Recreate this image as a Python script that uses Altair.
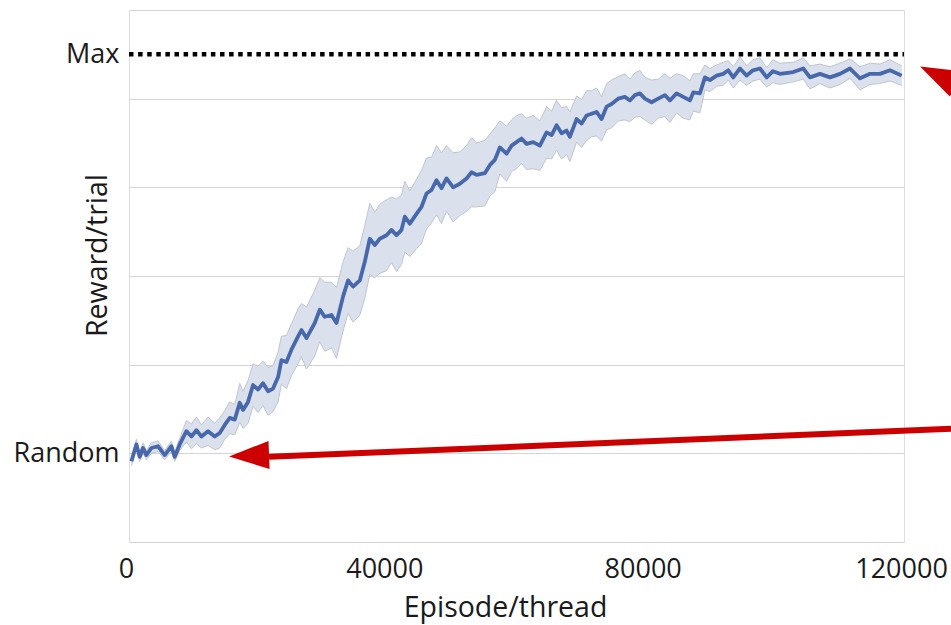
import altair as alt
import pandas as pd

# ---- data ----
episodes = [372, 1146, 1657, 2169, 2695, 3470, 4492, 5530, 6568, 7079, 7854,
            8891, 9666, 10440, 11215, 12237, 13275, 14050, 14824, 15599, 16373,
            17148, 17659, 18433, 19208, 19982, 20757, 21531, 22306, 23080, 23607, 24382, 25156, 26178, 26705,
            27479, 28765, 29540, 30314, 31352, 32127, 33149, 33924, 34698, 35736,
            36510, 37285, 38059, 38834, 39872, 40646, 41421, 42195, 42706, 43481,
            44518, 45293, 46067, 46842, 47617, 48391, 49166, 50188, 51225, 52263,
            53038, 53812, 55098, 55872, 56647,
            57421, 58459, 59234, 60008, 60783, 61557, 62580, 63617, 64655, 65430,
            66204, 66979, 67753, 68265, 69302, 70077, 70851, 71626, 72400, 73175,
            73949, 74724, 75746, 76784, 77558, 78333, 79107, 79882, 80920, 81942,
            82980, 83754, 84792, 85815, 86853, 87364, 88402,
            89176, 89951, 90989, 92011, 92786, 93560, 94598, 95636, 96612, 97696,
            98734, 99710, 100793, 102854, 104403, 105440, 106990, 108539, 110087, 111637,
            113186, 114735, 116284, 117833, 119646]

reward = [0.91, 1.10, 0.96, 1.06, 0.98, 1.06, 1.08, 0.98, 1.08, 0.96, 1.10,
          1.25, 1.19, 1.26, 1.19, 1.25, 1.19, 1.23, 1.32, 1.40, 1.38,
          1.57, 1.49, 1.58, 1.77, 1.72, 1.79, 1.70, 1.73, 1.86, 2.05, 2.03, 2.17, 2.32, 2.39,
          2.30, 2.47, 2.62, 2.54, 2.56, 2.47, 2.77, 2.95, 2.88, 2.95,
          3.16, 3.42, 3.35, 3.42, 3.46, 3.52, 3.46, 3.52, 3.67, 3.59,
          3.70, 3.78, 3.93, 3.97, 4.08, 3.99, 4.10, 4.00, 4.04, 4.10,
          4.17, 4.14, 4.16, 4.25, 4.31,
          4.45, 4.38, 4.47, 4.51, 4.55, 4.49, 4.51, 4.47, 4.62, 4.59,
          4.70, 4.61, 4.64, 4.57, 4.77, 4.72, 4.81, 4.83, 4.85, 4.77,
          4.91, 4.94, 5.00, 5.02, 4.98, 5.04, 5.06, 5.00, 4.96, 5.00,
          5.04, 4.98, 5.06, 5.02, 4.98, 5.07, 5.06,
          5.24, 5.21, 5.26, 5.28, 5.32, 5.24, 5.34, 5.26, 5.32, 5.34,
          5.24, 5.31, 5.28, 5.30, 5.34, 5.24, 5.28, 5.24, 5.28, 5.34,
          5.23, 5.28, 5.28, 5.32, 5.26]

band_half = [0.05, 0.06, 0.05, 0.06, 0.05, 0.06, 0.06, 0.05, 0.06, 0.05, 0.07,
             0.12, 0.14, 0.15, 0.13, 0.16, 0.15, 0.17, 0.16, 0.18, 0.17,
             0.22, 0.21, 0.24, 0.24, 0.26, 0.25, 0.27, 0.26, 0.28, 0.27, 0.30, 0.29, 0.31, 0.30,
             0.35, 0.37, 0.36, 0.39, 0.37, 0.40, 0.39, 0.37, 0.40, 0.39,
             0.41, 0.40, 0.37, 0.39, 0.40, 0.37, 0.41, 0.39, 0.40, 0.37,
             0.39, 0.41, 0.40, 0.37, 0.39, 0.40, 0.37, 0.39, 0.36, 0.37,
             0.39, 0.36, 0.37, 0.35, 0.36,
             0.30, 0.31, 0.29, 0.30, 0.28, 0.29, 0.30, 0.28, 0.29, 0.27,
             0.28, 0.29, 0.27, 0.28, 0.26, 0.27, 0.28, 0.26, 0.27, 0.25,
             0.26, 0.27, 0.25, 0.26, 0.24, 0.25, 0.26, 0.24, 0.25, 0.22,
             0.24, 0.25, 0.22, 0.24, 0.22, 0.21, 0.22,
             0.14, 0.13, 0.12, 0.13, 0.11, 0.12, 0.13, 0.11, 0.12, 0.12,
             0.11, 0.13, 0.12, 0.11, 0.12, 0.13, 0.11, 0.12, 0.12, 0.11,
             0.13, 0.12, 0.11, 0.12, 0.11]

x_ticks = [0, 40000, 80000, 120000]
y_grid = [0, 1, 2, 3, 4, 5, 6]
y_label_values = [1, 5.5]
y_label_text = ["Random", "Max"]
max_level = 5.5

# annotation arrows (data units)
arrow_line_x = [127280]
arrow_line_x2 = [21686]
arrow_line_y = [1.276]
arrow_line_y2 = [0.961]
head_x = [18588, 125270]
head_y = [0.973, 5.265]
head_angle = [357.7, 26]

df = pd.DataFrame({"episode": episodes, "reward": reward, "half": band_half})
df["lower"] = df["reward"] - df["half"]
df["upper"] = df["reward"] + df["half"]

FONT = "Open Sans"
GRID = "#d4d4d4"

label_expr = " : ".join(
    f"datum.value == {v} ? '{t}'" for v, t in zip(y_label_values, y_label_text)
) + " : ''"

x_enc = alt.X(
    "episode:Q",
    scale=alt.Scale(domain=[0, 120000], nice=False, zero=False),
    axis=alt.Axis(
        values=x_ticks, format="d", title="Episode/thread", grid=False,
        ticks=False, domain=False, labelFlush=False, labelPadding=14,
        labelOffset=-3, labelBound=False, labelOverlap=False,
        labelFontSize=27, labelFont=FONT, labelColor="#1a1a1a",
        titleFontSize=28.5, titleFont=FONT, titleColor="#1a1a1a",
        titleFontWeight="normal", titleX=376, titleY=74,
        titleAlign="center", titleBaseline="alphabetic",
    ),
)
y_scale = alt.Scale(domain=[0, 6], nice=False, zero=False)
y_axis = alt.Axis(
    values=sorted(set(y_grid + y_label_values)), labelExpr=label_expr,
    title="Reward/trial", grid=True, gridColor=GRID, gridWidth=1,
    gridOpacity={"condition": {"test": f"datum.value == {max_level}", "value": 0}, "value": 1},
    ticks=False, domain=False, labelPadding=10,
    labelFontSize=27, labelFont=FONT, labelColor="#1a1a1a",
    titleFontSize=28.5, titleFont=FONT, titleColor="#1a1a1a",
    titleFontWeight="normal", titleAngle=270, titleX=-23, titleY=245,
    titleAlign="center", titleBaseline="alphabetic",
)

base = alt.Chart(df)
band = base.mark_area(color="#dae0ec", opacity=1).encode(
    x=x_enc, y=alt.Y("lower:Q", scale=y_scale, axis=y_axis), y2="upper:Q"
)
upper = base.mark_line(color="#c0c5cf", strokeWidth=1).encode(x="episode:Q", y="upper:Q")
lower = base.mark_line(color="#c0c5cf", strokeWidth=1).encode(x="episode:Q", y="lower:Q")
mean = base.mark_line(color="#4769ab", strokeWidth=3.8, strokeJoin="round").encode(
    x="episode:Q", y="reward:Q"
)

max_df = pd.DataFrame({"x": [0], "x2": [120000], "y": [max_level]})
max_rule = alt.Chart(max_df).mark_rule(
    color="black", strokeWidth=4.5, strokeDash=[4.5, 4.6]
).encode(x="x:Q", x2="x2:Q", y="y:Q")

arrow_df = pd.DataFrame({"x": arrow_line_x, "x2": arrow_line_x2,
                         "y": arrow_line_y, "y2": arrow_line_y2})
arrow_rule = alt.Chart(arrow_df).mark_rule(
    color="#cc0000", strokeWidth=6, clip=False
).encode(x="x:Q", x2="x2:Q", y="y:Q", y2="y2:Q")

head_df = pd.DataFrame({"x": head_x, "y": head_y, "angle": head_angle})
heads = alt.Chart(head_df).mark_point(
    shape="M-1,0L1,-0.7L1,0.7Z", filled=True, color="#cc0000", opacity=1,
    size=1600, strokeWidth=0, clip=False
).encode(x="x:Q", y="y:Q", angle=alt.Angle("angle:Q", scale=None))

chart = alt.layer(band, upper, lower, mean, max_rule, arrow_rule, heads).properties(
    width=775, height=532,
    autosize=alt.AutoSizeParams(type="none"),
    padding={"left": 129, "top": 10, "right": 47, "bottom": 83},
).configure_view(
    stroke=GRID, strokeWidth=1
).configure(background="white")

chart.save("out.html", embed_options={"renderer": "svg", "actions": False})
